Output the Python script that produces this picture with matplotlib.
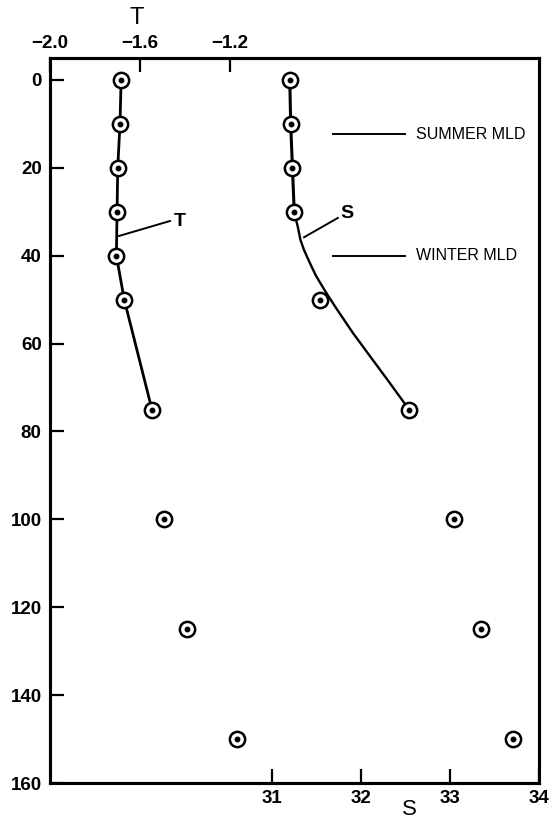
import matplotlib
matplotlib.use("Agg")
import matplotlib.pyplot as plt
import numpy as np

# Data
t_depth = [0, 10, 20, 30, 40, 50, 75, 100, 125, 150]
t_vals = [-1.684, -1.689, -1.699, -1.702, -1.705, -1.670, -1.547, -1.493, -1.391, -1.169]
t_line_n = 7  # first 7 points connected

s_depth = [0, 10, 20, 30, 50, 75, 100, 125, 150]
s_vals = [31.20, 31.21, 31.23, 31.25, 31.54, 32.54, 33.04, 33.35, 33.71]
s_line_n = 4  # first 4 points connected by straight line

# hand-drawn fitted curve for S below 30 m
s_curve_depth = [30.2, 33.4, 36.4, 38.7, 41.4, 44.4, 47.8, 51.9, 57.6, 63.1, 68.3, 75.0]
s_curve_vals = [31.25, 31.29, 31.32, 31.36, 31.42, 31.49, 31.59, 31.72, 31.91, 32.11, 32.30, 32.54]

summer_mld = 12.3
winter_mld = 40.0
mld_line_s = [31.685, 32.49]
mld_text_s = 32.62

depth_ticks = [0, 20, 40, 60, 80, 100, 120, 140, 160]
s_ticks = [31, 32, 33, 34]
t_ticks = [-2.0, -1.6, -1.2]
t_ticklabels = ["\u22122.0", "\u22121.6", "\u22121.2"]

plt.rcParams['font.family'] = ['Liberation Sans', 'DejaVu Sans']

fig = plt.figure(figsize=(5.53, 8.21), dpi=100)
ax = fig.add_axes([50/553, 38/821, 489/553, 725/821])
ax.set_xlim(28.506, 34.0)
ax.set_ylim(160, -5)

ax2 = ax.twiny()
ax2.set_xlim(-2.0, 0.173)

for a in (ax, ax2):
    for sp in a.spines.values():
        sp.set_linewidth(2.2)

ax.set_yticks(depth_ticks)
ax.set_yticklabels([str(d) for d in depth_ticks], fontsize=13.5, fontweight='bold')
ax.set_xticks(s_ticks)
ax.set_xticklabels([str(s) for s in s_ticks], fontsize=13.5, fontweight='bold')
ax.tick_params(axis='both', direction='in', length=10, width=1.6, pad=5)
ax.tick_params(axis='y', pad=6)

ax2.set_xticks(t_ticks)
ax2.set_xticklabels(t_ticklabels, fontsize=13.5, fontweight='bold')
ax2.tick_params(axis='x', direction='in', length=10, width=1.6, pad=4)

fig.text(137/553, 1 - 18/821, "T", fontsize=17, ha='center', va='center')
fig.text(409/553, 1 - 809/821, "S", fontsize=16, ha='center', va='center')

# T profile
ax2.plot(t_vals[:t_line_n], t_depth[:t_line_n], color='black', lw=2.0, zorder=2)
ax2.plot(t_vals, t_depth, 'o', ms=11, mfc='white', mec='black', mew=1.8, zorder=3)
ax2.plot(t_vals, t_depth, 'o', ms=3.2, color='black', zorder=4)

# S profile
ax.plot(s_vals[:s_line_n], s_depth[:s_line_n], color='black', lw=2.2, zorder=2)
ax.plot(s_curve_vals, s_curve_depth, color='black', lw=1.7, zorder=2)
ax.plot(s_vals, s_depth, 'o', ms=11, mfc='white', mec='black', mew=1.8, zorder=3)
ax.plot(s_vals, s_depth, 'o', ms=3.2, color='black', zorder=4)

# MLD markers
ax.plot(mld_line_s, [summer_mld, summer_mld], color='black', lw=1.4)
ax.text(mld_text_s, summer_mld, "SUMMER MLD", fontsize=11.5, va='center', ha='left')
ax.plot(mld_line_s, [winter_mld, winter_mld], color='black', lw=1.4)
ax.text(mld_text_s, winter_mld, "WINTER MLD", fontsize=11.5, va='center', ha='left')

# Curve labels
ax2.plot([-1.693, -1.467], [35.5, 32.1], color='black', lw=1.4)
ax2.text(-1.450, 32.2, "T", fontsize=14, fontweight='bold', va='center', ha='left')
ax.plot([31.36, 31.74], [35.8, 31.4], color='black', lw=1.4)
ax.text(31.77, 30.3, "S", fontsize=14, fontweight='bold', va='center', ha='left')

fig.savefig("out.png", dpi=100)
